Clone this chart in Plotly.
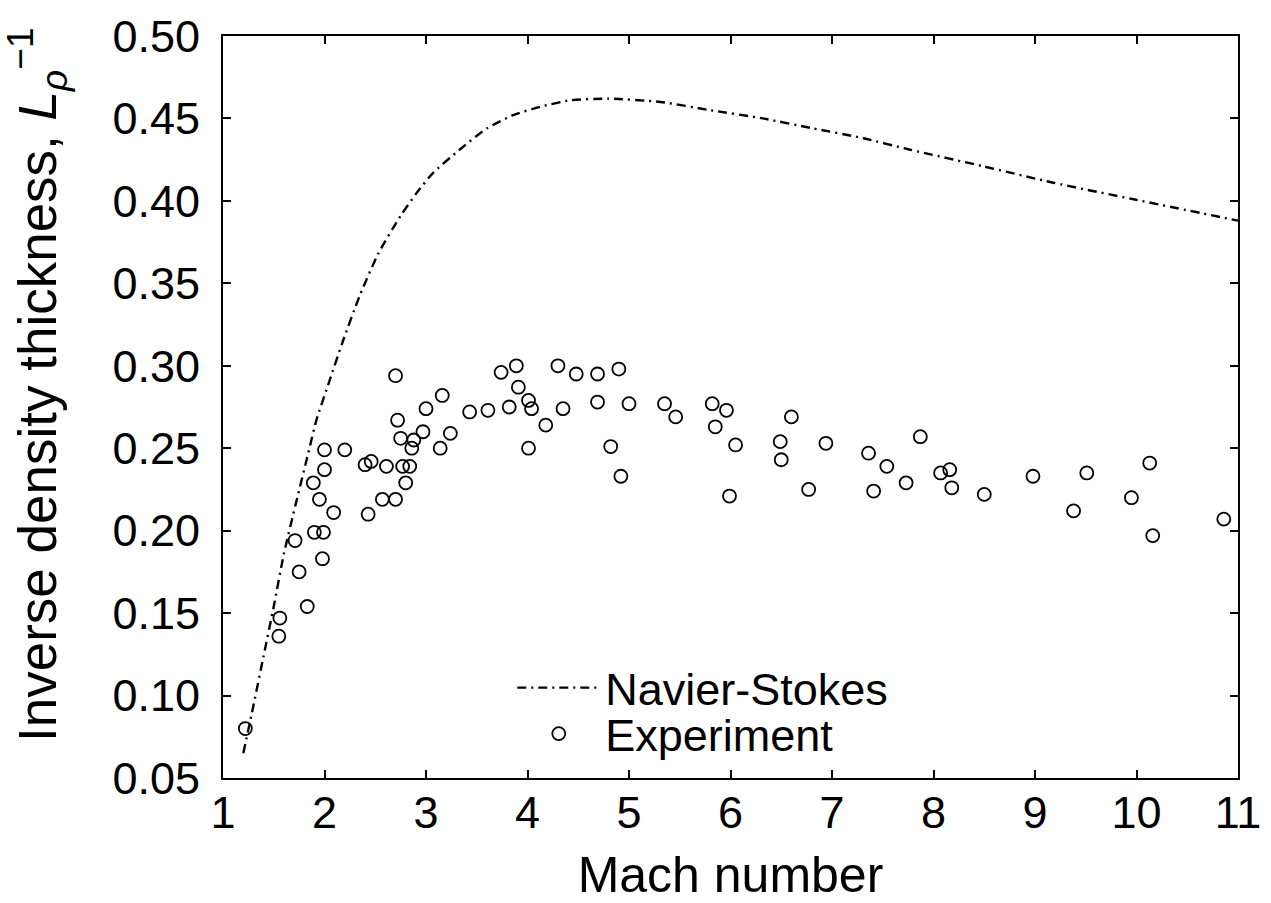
import plotly.graph_objects as go

# Navier-Stokes curve
ns_mach = [1.20, 1.30, 1.40, 1.50, 1.60, 1.72, 1.84, 1.92, 2.05, 2.17, 2.35, 2.53, 2.75, 2.91,
           3.07, 3.33, 3.60, 3.86, 4.12, 4.42, 4.80, 5.31, 5.80, 6.32, 6.81, 7.31, 7.77, 8.49,
           9.18, 9.97, 11.0]
ns_value = [0.065, 0.094, 0.124, 0.154, 0.186, 0.217, 0.247, 0.267, 0.291, 0.313, 0.343, 0.368,
            0.391, 0.405, 0.417, 0.431, 0.444, 0.452, 0.457, 0.461, 0.462, 0.460, 0.455, 0.450,
            0.444, 0.438, 0.431, 0.421, 0.411, 0.401, 0.388]

# Experiment points
exp_mach = [1.22, 1.55, 1.56, 1.71, 1.75, 1.83, 1.89, 1.90, 1.95, 1.98, 1.99, 2.00, 2.00, 2.09,
            2.20, 2.40, 2.43, 2.46, 2.57, 2.61, 2.70, 2.70, 2.72, 2.75, 2.77, 2.80, 2.84, 2.86,
            2.88, 2.97, 3.00, 3.14, 3.16, 3.24, 3.43, 3.61, 3.74, 3.82, 3.89, 3.91, 4.01, 4.04,
            4.01, 4.18, 4.30, 4.35, 4.48, 4.69, 4.69, 4.82, 4.90, 4.92, 5.00, 5.35, 5.46, 5.82,
            5.85, 5.96, 5.99, 6.05, 6.49, 6.50, 6.60, 6.77, 6.94, 7.36, 7.41, 7.54, 7.73, 7.87,
            8.07, 8.16, 8.18, 8.50, 8.98, 9.38, 9.51, 9.95, 10.13, 10.16, 10.86]
exp_value = [0.080, 0.136, 0.147, 0.194, 0.175, 0.154, 0.229, 0.199, 0.219, 0.183, 0.199, 0.237,
             0.249, 0.211, 0.249, 0.240, 0.210, 0.242, 0.219, 0.239, 0.219, 0.294, 0.267, 0.256,
             0.239, 0.229, 0.239, 0.250, 0.255, 0.260, 0.274, 0.250, 0.282, 0.259, 0.272, 0.273,
             0.296, 0.275, 0.300, 0.287, 0.279, 0.274, 0.250, 0.264, 0.300, 0.274, 0.295, 0.295,
             0.278, 0.251, 0.298, 0.233, 0.277, 0.277, 0.269, 0.277, 0.263, 0.273, 0.221, 0.252,
             0.254, 0.243, 0.269, 0.225, 0.253, 0.247, 0.224, 0.239, 0.229, 0.257, 0.235, 0.237,
             0.226, 0.222, 0.233, 0.212, 0.235, 0.220, 0.241, 0.197, 0.207]

x_ticks = [1, 2, 3, 4, 5, 6, 7, 8, 9, 10, 11]
y_ticks = [0.05, 0.10, 0.15, 0.20, 0.25, 0.30, 0.35, 0.40, 0.45, 0.50]

FONT = "Liberation Sans, Arial, Helvetica, sans-serif"
Y_TITLE = "Inverse density thickness, <i>L</i><sub><i>ρ</i></sub><sup>−1</sup>"

fig = go.Figure()
fig.add_trace(go.Scatter(
    x=ns_mach, y=ns_value, mode="lines", name="Navier-Stokes", legend="legend", showlegend=True,
    line=dict(color="black", width=2.4, dash="9px,5px,2px,5px", shape="spline", smoothing=0.6),
))
fig.add_trace(go.Scatter(
    x=exp_mach, y=exp_value, mode="markers", name="Experiment", legend="legend2", showlegend=True,
    marker=dict(symbol="circle-open", size=13, color="black", line=dict(width=1.8, color="black")),
))

axis_common = dict(
    showline=True, linecolor="black", linewidth=2, mirror="ticks",
    ticks="inside", ticklen=8, tickwidth=1.5, tickcolor="black",
    showgrid=False, zeroline=False, automargin=False,
    tickfont=dict(family=FONT, size=45, color="black"),
)

fig.update_xaxes(range=[1, 11], tickvals=x_ticks, ticktext=[str(t) for t in x_ticks],
                 ticklabelstandoff=-6,
                 title=dict(text="Mach number", font=dict(family=FONT, size=50, color="black"),
                            standoff=25),
                 **axis_common)
fig.update_yaxes(range=[0.05, 0.50], tickvals=y_ticks, ticktext=[f"{t:.2f}" for t in y_ticks],
                 ticklabelstandoff=12,
                 **axis_common)

# y-axis title as rotated text, placed like the reference
fig.add_annotation(text=Y_TITLE, xref="paper", yref="paper", x=-0.183, y=0.53,
                   xanchor="center", yanchor="middle", textangle=-90, showarrow=False,
                   font=dict(family=FONT, size=53, color="black"))

leg_common = dict(xanchor="left", yanchor="top", bgcolor="rgba(0,0,0,0)",
                  font=dict(family=FONT, size=45, color="black"), itemwidth=83)

fig.update_layout(
    width=1271, height=903,
    margin=dict(l=223, r=33, t=36, b=125),
    paper_bgcolor="white", plot_bgcolor="white",
    font=dict(family=FONT, color="black"),
    showlegend=True,
    legend=dict(x=0.285, y=0.170, **leg_common),
    legend2=dict(x=0.285, y=0.108, **leg_common),
)

fig.write_html("out.html")
